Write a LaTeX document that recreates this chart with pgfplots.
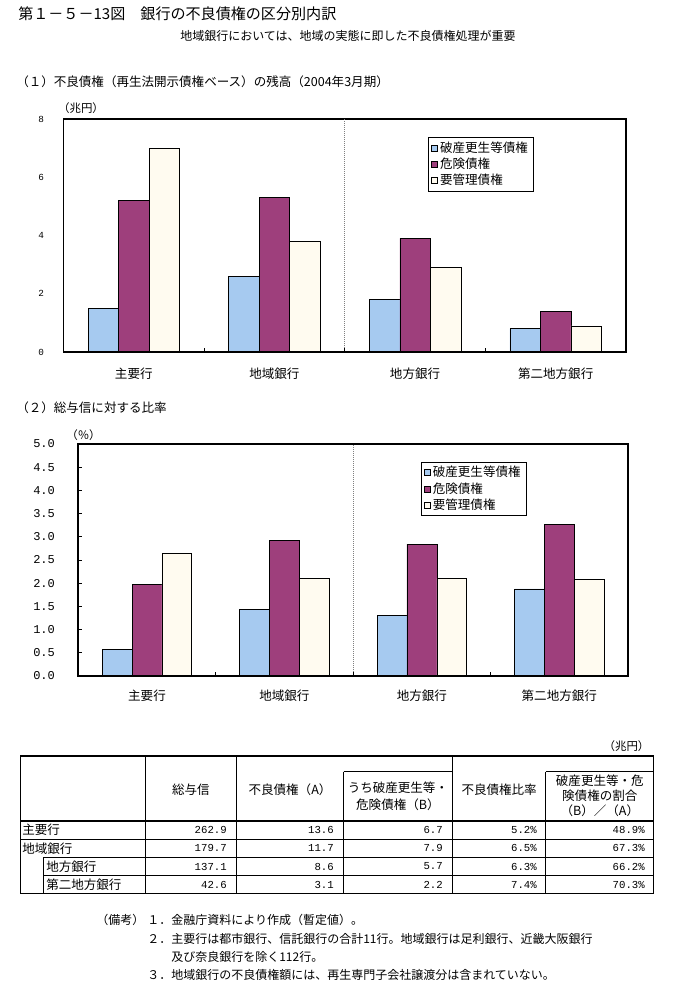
\documentclass[border=0pt]{standalone}
\usepackage{fontspec}
\setmainfont{Noto Sans CJK JP}
\newfontfamily\mono{Liberation Mono}
\usepackage{pgfplots}
\pgfplotsset{compat=1.18}

\definecolor{cBlue}{RGB}{166,202,240}
\definecolor{cPurple}{RGB}{158,63,124}
\definecolor{cCream}{RGB}{255,251,240}

\newcommand\jp{\fontsize{9.4}{11}\selectfont}
\newcommand\nums{\mono\fontsize{8}{10}\selectfont}

\pgfplotsset{
  nplchart/.style={
    scale only axis,
    anchor=south west,
    ybar=0pt,
    bar width=0.217,
    xmin=-0.5, xmax=3.5,
    ymin=0,
    xtick={0,1,2,3},
    xticklabels={主要行,地域銀行,地方銀行,第二地方銀行},
    xtick style={draw=none},
    ytick pos=left,
    xticklabel style={font=\jp, yshift=-4pt},
    axis line style={line width=1.3pt},
    every axis plot/.append style={draw=black, line width=0.4pt,
      legend image code/.code={\draw[##1, draw=black, line width=0.4pt] (0pt,-2.2pt) rectangle (4.4pt,2.2pt);}},
    legend style={anchor=north west, draw=black, line width=0.6pt, font=\jp,
      cells={anchor=west}, inner xsep=2pt, inner ysep=1.2pt, row sep=-1.2pt},
  }
}

\begin{document}
\begin{tikzpicture}

% (1) balance of bad loans, trillion yen
\begin{axis}[nplchart,
  at={(47.6pt,-264pt)}, width=421.9pt, height=174.75pt,
  ymax=8, ytick={0,2,4,6,8}, yticklabels={0,2,4,6,8},
  ytick style={draw=none},
  yticklabel style={font=\mono\fontsize{7}{8}\selectfont, xshift=-11pt},
  legend style={at={(0.648,0.923)}}]
\addplot[fill=cBlue] coordinates {(0,1.5) (1,2.6) (2,1.8) (3,0.8)};
\addplot[fill=cPurple] coordinates {(0,5.2) (1,5.3) (2,3.9) (3,1.4)};
\addplot[fill=cCream] coordinates {(0,7.0) (1,3.8) (2,2.9) (3,0.9)};
\legend{破産更生等債権,危険債権,要管理債権}
\draw[densely dotted, gray, line width=0.5pt] (axis cs:1.5,0) -- (axis cs:1.5,8);
\draw[line width=2.2pt] (axis cs:-0.5,0) -- (axis cs:3.5,0);
\draw[line width=0.6pt] (axis cs:0.5,0) -- ++(0pt,3pt);
\draw[line width=0.6pt] (axis cs:1.5,0) -- ++(0pt,3pt);
\draw[line width=0.6pt] (axis cs:2.5,0) -- ++(0pt,3pt);
\end{axis}

% (2) ratio to total credit, percent
\begin{axis}[nplchart,
  at={(58.7pt,-507pt)}, width=412.3pt, height=174pt,
  ymax=5, ytick={0,0.5,1,1.5,2,2.5,3,3.5,4,4.5,5},
  yticklabels={0.0,0.5,1.0,1.5,2.0,2.5,3.0,3.5,4.0,4.5,5.0},
  major tick length=3pt,
  ytick style={black, line width=0.6pt},
  yticklabel style={font=\mono\fontsize{9}{10}\selectfont, xshift=-14pt},
  legend style={at={(0.623,0.924)}}]
\addplot[fill=cBlue] coordinates {(0,0.57) (1,1.43) (2,1.30) (3,1.88)};
\addplot[fill=cPurple] coordinates {(0,1.97) (1,2.93) (2,2.84) (3,3.27)};
\addplot[fill=cCream] coordinates {(0,2.65) (1,2.11) (2,2.11) (3,2.09)};
\legend{破産更生等債権,危険債権,要管理債権}
\draw[densely dotted, gray, line width=0.5pt] (axis cs:1.5,0) -- (axis cs:1.5,5);
\draw[line width=2.2pt] (axis cs:-0.5,0) -- (axis cs:3.5,0);
\draw[line width=0.6pt] (axis cs:0.5,0) -- ++(0pt,3pt);
\draw[line width=0.6pt] (axis cs:1.5,0) -- ++(0pt,3pt);
\draw[line width=0.6pt] (axis cs:2.5,0) -- ++(0pt,3pt);
\end{axis}

\begin{scope}[x=0.75pt, y=-0.75pt]
\path (0,0) rectangle (684,1002);

% titles
\node[anchor=west, inner sep=0pt, font=\fontsize{11.3}{13}\selectfont] at (18,14) {第１－５－13図　銀行の不良債権の区分別内訳};
\node[inner sep=0pt, font=\fontsize{9}{11}\selectfont] at (348,36) {地域銀行においては、地域の実態に即した不良債権処理が重要};
\node[anchor=west, inner sep=0pt, font=\jp] at (16,82) {（１）不良債権（再生法開示債権ベース）の残高（2004年3月期）};
\node[inner sep=0pt, font=\fontsize{8.6}{10}\selectfont] at (81,108) {（兆円）};
\node[anchor=west, inner sep=0pt, font=\jp] at (16,408) {（２）総与信に対する比率};
\node[inner sep=0pt, font=\fontsize{8.6}{10}\selectfont] at (83.5,435) {（％）};

% table
\node[inner sep=0pt, font=\fontsize{8.6}{10}\selectfont] at (626.5,746) {（兆円）};
\begin{scope}[line width=0.8pt]
\draw (20.6,756) rectangle (653.7,893.3);
\draw (145.5,756) -- (145.5,893.3);
\draw (236.4,756) -- (236.4,893.3);
\draw (452.3,756) -- (452.3,893.3);
\draw (343.5,771.7) -- (343.5,893.3);
\draw (545.9,771.7) -- (545.9,893.3);
\draw (343.5,771.7) -- (452.3,771.7);
\draw (545.9,771.7) -- (653.7,771.7);
\draw (20.6,821) -- (653.7,821);
\draw (20.6,839.3) -- (653.7,839.3);
\draw (43.3,857.3) -- (653.7,857.3);
\draw (43.3,875.7) -- (653.7,875.7);
\draw (43.3,857.3) -- (43.3,893.3);
\end{scope}

\begin{scope}[every node/.style={inner sep=0pt, font=\jp}]
\node at (190.9,790) {総与信};
\node at (290,790) {不良債権（A）};
\node at (397.9,788) {うち破産更生等・};
\node at (397.9,805) {危険債権（B）};
\node at (499.1,790) {不良債権比率};
\node at (599.8,781) {破産更生等・危};
\node at (599.8,796) {険債権の割合};
\node at (599.8,811) {（B）／（A）};
\node[anchor=west] at (22,830) {主要行};
\node[anchor=west] at (22,848.3) {地域銀行};
\node[anchor=west] at (46,866.5) {地方銀行};
\node[anchor=west] at (46,884.5) {第二地方銀行};
\end{scope}

\begin{scope}[every node/.style={inner sep=0pt, anchor=east, font=\nums}]
\node at (227,830) {262.9};   \node at (334,830) {13.6};  \node at (443,830) {6.7};
\node at (537,830) {5.2\%};   \node at (645,830) {48.9\%};
\node at (227,848.3) {179.7}; \node at (334,848.3) {11.7}; \node at (443,848.3) {7.9};
\node at (537,848.3) {6.5\%}; \node at (645,848.3) {67.3\%};
\node at (227,866.5) {137.1}; \node at (334,866.5) {8.6};  \node at (443,866.5) {5.7};
\node at (537,866.5) {6.3\%}; \node at (645,866.5) {66.2\%};
\node at (227,884.5) {42.6};  \node at (334,884.5) {3.1};  \node at (443,884.5) {2.2};
\node at (537,884.5) {7.4\%}; \node at (645,884.5) {70.3\%};
\end{scope}

% notes
\begin{scope}[every node/.style={inner sep=0pt, anchor=west, font=\fontsize{9}{11}\selectfont}]
\node at (96,920) {（備考）};
\node at (147,920) {１．金融庁資料により作成（暫定値）。};
\node at (147,939) {２．主要行は都市銀行、信託銀行の合計11行。地域銀行は足利銀行、近畿大阪銀行};
\node at (171,957) {及び奈良銀行を除く112行。};
\node at (147,975) {３．地域銀行の不良債権額には、再生専門子会社譲渡分は含まれていない。};
\end{scope}
\end{scope}
\end{tikzpicture}
\end{document}
